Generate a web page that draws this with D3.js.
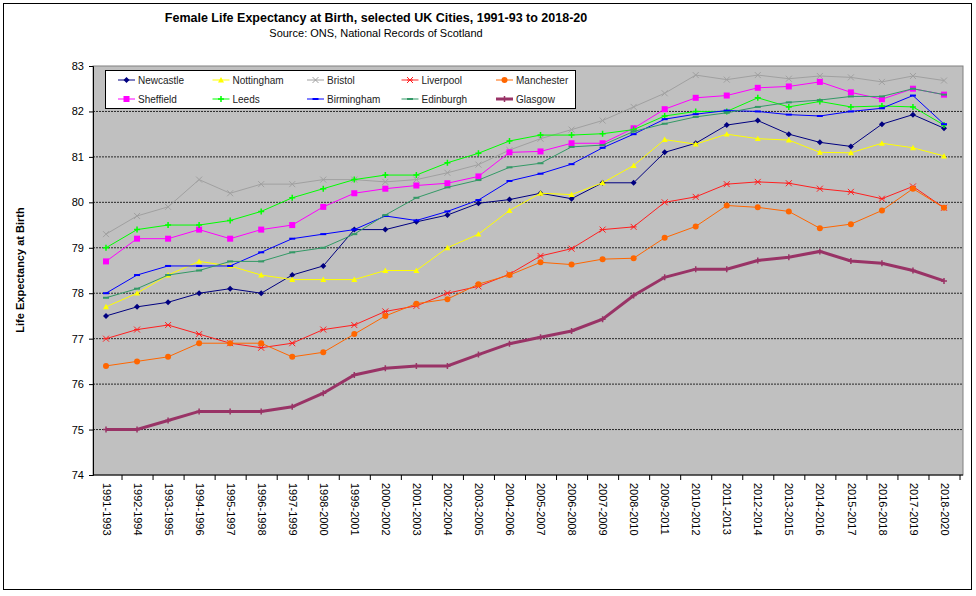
<!DOCTYPE html>
<html><head><meta charset="utf-8">
<script src="https://cdn.jsdelivr.net/npm/d3@7"></script>
<style>body{margin:0;background:#fff;font-family:Arial,"Liberation Sans",sans-serif}</style>
</head><body><svg id="c" width="976" height="596"></svg>
<script>
const categories=["1991-1993","1992-1994","1993-1995","1994-1996","1995-1997","1996-1998","1997-1999","1998-2000","1999-2001","2000-2002","2001-2003","2002-2004","2003-2005","2004-2006","2005-2007","2006-2008","2007-2009","2008-2010","2009-2011","2010-2012","2011-2013","2012-2014","2013-2015","2014-2016","2015-2017","2016-2018","2017-2019","2018-2020"];
const yTicks=[74,75,76,77,78,79,80,81,82,83];
const newcastle=[77.5,77.7,77.8,78.0,78.1,78.0,78.4,78.6,79.4,79.4,79.57,79.72,79.98,80.06,80.2,80.08,80.43,80.43,81.1,81.3,81.7,81.8,81.5,81.32,81.23,81.72,81.93,81.63];
const nottingham=[77.7,78.0,78.4,78.7,78.6,78.4,78.3,78.3,78.3,78.5,78.5,79.0,79.3,79.82,80.2,80.17,80.43,80.81,81.38,81.28,81.5,81.4,81.37,81.1,81.09,81.3,81.2,81.02];
const bristol=[79.3,79.7,79.9,80.5,80.2,80.4,80.4,80.5,80.5,80.45,80.5,80.65,80.83,81.15,81.4,81.6,81.8,82.1,82.4,82.8,82.7,82.8,82.72,82.78,82.75,82.65,82.78,82.68];
const liverpool=[77.0,77.2,77.3,77.1,76.9,76.8,76.9,77.2,77.3,77.6,77.72,78.0,78.15,78.42,78.82,78.98,79.4,79.46,80.0,80.12,80.4,80.45,80.42,80.3,80.23,80.08,80.35,79.88];
const manchester=[76.4,76.5,76.6,76.9,76.9,76.9,76.6,76.7,77.1,77.5,77.77,77.87,78.2,78.4,78.68,78.63,78.75,78.77,79.22,79.47,79.93,79.89,79.8,79.43,79.52,79.82,80.3,79.88];
const sheffield=[78.7,79.2,79.2,79.4,79.2,79.4,79.5,79.9,80.2,80.3,80.37,80.42,80.57,81.1,81.12,81.3,81.3,81.63,82.05,82.3,82.35,82.52,82.55,82.65,82.42,82.27,82.5,82.37];
const leeds=[79.0,79.4,79.5,79.5,79.6,79.8,80.1,80.3,80.5,80.6,80.6,80.87,81.08,81.35,81.48,81.48,81.51,81.6,81.9,82.0,82.0,82.3,82.1,82.22,82.1,82.12,82.1,81.7];
const birmingham=[78.0,78.4,78.6,78.6,78.6,78.9,79.2,79.3,79.4,79.7,79.6,79.8,80.05,80.47,80.63,80.84,81.2,81.5,81.83,81.94,82.02,82.0,81.93,81.9,82.0,82.07,82.35,81.72];
const edinburgh=[77.9,78.1,78.4,78.5,78.7,78.7,78.9,79.0,79.3,79.72,80.1,80.33,80.49,80.77,80.86,81.22,81.26,81.56,81.73,81.88,81.97,82.1,82.2,82.25,82.33,82.33,82.5,82.37];
const glasgow=[75.0,75.0,75.2,75.4,75.4,75.4,75.5,75.8,76.2,76.35,76.4,76.4,76.65,76.89,77.03,77.17,77.43,77.95,78.35,78.53,78.53,78.72,78.79,78.92,78.71,78.66,78.5,78.27];

const series=[
 {name:"Newcastle",v:newcastle,c:"#000080",m:"diamond",w:1},
 {name:"Nottingham",v:nottingham,c:"#ffff00",m:"triangle",w:1},
 {name:"Bristol",v:bristol,c:"#a0a0a0",m:"x",w:1},
 {name:"Liverpool",v:liverpool,c:"#ff2020",m:"star",w:1},
 {name:"Manchester",v:manchester,c:"#ff6600",m:"circle",w:1},
 {name:"Sheffield",v:sheffield,c:"#ff00ff",m:"square",w:1},
 {name:"Leeds",v:leeds,c:"#00ff00",m:"plus",w:1},
 {name:"Birmingham",v:birmingham,c:"#0000ff",m:"dash",w:1},
 {name:"Edinburgh",v:edinburgh,c:"#339966",m:"dash",w:1},
 {name:"Glasgow",v:glasgow,c:"#993366",m:"plus",w:3}
];
const svg=d3.select("#c");
svg.append("rect").attr("x",3.5).attr("y",3.5).attr("width",968).attr("height",586).attr("fill","#fff").attr("stroke","#000").attr("stroke-width",1);
const L=93,R=963,T=66,B=475;
svg.append("rect").attr("x",L).attr("y",T).attr("width",R-L).attr("height",B-T).attr("fill","#c0c0c0").attr("stroke","#808080");
const x=d3.scalePoint().domain(categories).range([106,944]);
const y=d3.scaleLinear().domain([74,83]).range([B,T]);
svg.append("g").selectAll("line").data(yTicks.filter(t=>t>74&&t<83)).join("line")
 .attr("x1",L).attr("x2",R).attr("y1",d=>y(d)).attr("y2",d=>y(d)).attr("stroke","#000").attr("stroke-dasharray","2,1").attr("stroke-width",0.8);
const ya=svg.append("g").attr("transform",`translate(${L},0)`).call(d3.axisLeft(y).tickValues(yTicks).tickSize(4).tickFormat(d3.format("d")));
ya.select(".domain").attr("stroke","#000");
ya.selectAll("text").attr("font-size",11).attr("font-family","Arial,'Liberation Sans'").attr("dx",-2);
const xa=svg.append("g").attr("transform",`translate(0,${B})`).call(d3.axisBottom(x).tickSize(5).tickSizeOuter(0));
xa.select(".domain").attr("d",`M${L},0H${R}`).attr("stroke","#000");
xa.selectAll("line").attr("transform",`translate(${x.step()/2},0)`);
xa.selectAll("text").attr("font-size",11).attr("font-family","Arial,'Liberation Sans'")
 .attr("transform","rotate(90)").attr("text-anchor","start").attr("x",8).attr("y",0).attr("dy","0.35em");
function marker(g,type,c,s){
 s=s||3;
 if(type==="diamond")g.append("path").attr("d",`M0,${-s}L${s},0L0,${s}L${-s},0Z`).attr("fill",c);
 else if(type==="triangle")g.append("path").attr("d",`M0,${-s}L${s},${s*0.8}L${-s},${s*0.8}Z`).attr("fill",c);
 else if(type==="square")g.append("rect").attr("x",-s).attr("y",-s).attr("width",2*s).attr("height",2*s).attr("fill",c);
 else if(type==="circle")g.append("circle").attr("r",s).attr("fill",c);
 else if(type==="x")g.append("path").attr("d",`M${-s},${-s}L${s},${s}M${-s},${s}L${s},${-s}`).attr("stroke",c);
 else if(type==="star")g.append("path").attr("d",`M${-s},${-s}L${s},${s}M${-s},${s}L${s},${-s}M${-s},0H${s}`).attr("stroke",c);
 else if(type==="plus")g.append("path").attr("d",`M${-s},0H${s}M0,${-s}V${s}`).attr("stroke",c).attr("stroke-width",1.5);
 else if(type==="dash")g.append("path").attr("d",`M${-s},0H${s}`).attr("stroke",c).attr("stroke-width",2);
}
const line=d3.line().x((d,i)=>x(categories[i])).y(d=>y(d));
series.forEach(s=>{
 const g=svg.append("g");
 g.append("path").attr("d",line(s.v)).attr("fill","none").attr("stroke",s.c).attr("stroke-width",s.w);
 s.v.forEach((v,i)=>marker(g.append("g").attr("transform",`translate(${x(categories[i])},${y(v)})`),s.m,s.c));
});
const lg=svg.append("g");
lg.append("rect").attr("x",105.5).attr("y",70.5).attr("width",470).attr("height",38).attr("fill","#fff").attr("stroke","#000");
series.forEach((s,i)=>{
 const col=i<5?i:i-5,row=i<5?0:1;
 const lx=118+col*94.5,ly=80+row*19;
 const g=lg.append("g");
 g.append("line").attr("x1",lx).attr("x2",lx+17).attr("y1",ly).attr("y2",ly).attr("stroke",s.c).attr("stroke-width",s.w);
 marker(g.append("g").attr("transform",`translate(${lx+8.5},${ly})`),s.m,s.c);
 g.append("text").attr("x",lx+20).attr("y",ly+3.5).attr("font-size",10).attr("fill","#222").text(s.name);
});
svg.append("text").attr("x",376).attr("y",22).attr("text-anchor","middle").attr("font-size",12.5).attr("font-weight","bold").text("Female Life Expectancy at Birth, selected UK Cities, 1991-93 to 2018-20");
svg.append("text").attr("x",376).attr("y",37).attr("text-anchor","middle").attr("font-size",11).text("Source: ONS, National Records of Scotland");
svg.append("text").attr("transform","translate(24,270) rotate(-90)").attr("text-anchor","middle").attr("font-size",11).attr("font-weight","bold").text("Life Expectancy at Birth");
</script></body></html>
